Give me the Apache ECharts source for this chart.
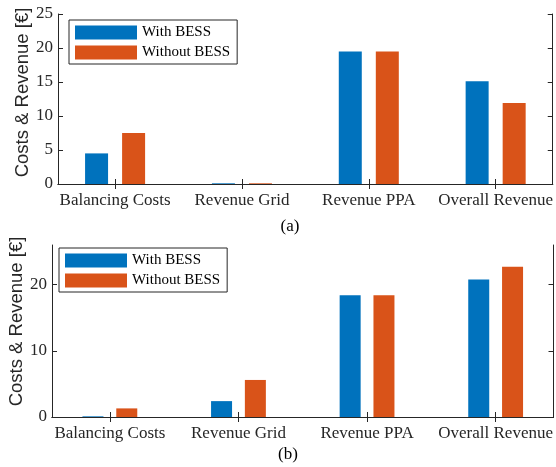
<!DOCTYPE html>
<html>
<head>
<meta charset="utf-8">
<script src="https://cdn.jsdelivr.net/npm/echarts@6/dist/echarts.min.js"></script>
<style>
html,body{margin:0;padding:0;background:#fff;}
#main{width:556px;height:467px;}
</style>
</head>
<body>
<div id="main"></div>
<script>
// ---- data ----
var categories = ['Balancing Costs', 'Revenue Grid', 'Revenue PPA', 'Overall Revenue'];
var seriesNames = ['With BESS', 'Without BESS'];
var withBessA = [4.5, 0.1, 19.5, 15.1];
var withoutBessA = [7.5, 0.1, 19.5, 11.9];
var withBessB = [0.1, 2.4, 18.4, 20.8];
var withoutBessB = [1.3, 5.6, 18.4, 22.7];
var yTicksA = [0, 5, 10, 15, 20, 25];
var yTicksB = [0, 10, 20];
var xTicks = [1, 2, 3, 4];
var yTitle = 'Costs & Revenue [€]';
var captions = ['(a)', '(b)'];

var serif = 'Liberation Serif';
var sans = 'Liberation Sans';
var axisColor = '#262626';
var blue = '#0072BD';
var orange = '#D95319';

function pairs(arr) {
  return arr.map(function (v, i) { return [xTicks[i], v]; });
}

function xAxes(gi) {
  var base = {
    gridIndex: gi, type: 'value', min: 0.55, max: 4.45,
    axisLine: { show: true, lineStyle: { color: axisColor, width: 1 } },
    axisTick: { show: true, inside: true, length: 5, customValues: xTicks, lineStyle: { color: axisColor } },
    splitLine: { show: false }
  };
  var bottom = Object.assign({}, base, {
    position: 'bottom',
    axisLabel: {
      show: true, customValues: xTicks, margin: 8, hideOverlap: false,
      fontFamily: serif, fontSize: 17, color: axisColor,
      formatter: function (v) { return categories[Math.round(v) - 1] || ''; }
    }
  });
  var top = Object.assign({}, base, { position: 'top', axisLabel: { show: false } });
  return [bottom, top];
}

function yAxes(gi, max, ticks) {
  var base = {
    gridIndex: gi, type: 'value', min: 0, max: max,
    axisLine: { show: true, lineStyle: { color: axisColor, width: 1 } },
    axisTick: { show: true, inside: true, length: 5, customValues: ticks, lineStyle: { color: axisColor } },
    splitLine: { show: false }
  };
  var left = Object.assign({}, base, {
    position: 'left',
    axisLabel: { show: true, customValues: ticks, margin: 5, fontFamily: serif, fontSize: 17, color: axisColor }
  });
  var right = Object.assign({}, base, { position: 'right', axisLabel: { show: false } });
  return [left, right];
}

function legendAt(left, top) {
  return {
    left: left, top: top, orient: 'vertical',
    data: seriesNames,
    itemWidth: 62, itemHeight: 14, itemGap: 5,
    padding: [5, 7, 4, 6],
    borderColor: axisColor, borderWidth: 1, backgroundColor: '#fff',
    icon: 'rect',
    selectedMode: false,
    textStyle: { fontFamily: serif, fontSize: 15, color: '#000', padding: [0, 0, 0, 0] }
  };
}

function bar(name, data, xi, yi, color, w) {
  return {
    type: 'bar', name: name, data: pairs(data),
    xAxisIndex: xi, yAxisIndex: yi,
    barWidth: w, barGap: '61%',
    itemStyle: { color: color },
    animation: false
  };
}

var chart = echarts.init(document.getElementById('main'), null, { renderer: 'canvas' });
var xa = xAxes(0), xb = xAxes(1);
var ya = yAxes(0, 25, yTicksA), yb = yAxes(1, 26, yTicksB);

chart.setOption({
  animation: false,
  backgroundColor: '#fff',
  grid: [
    { left: 58, top: 14, right: 1, height: 170 },
    { left: 52, top: 245, right: 2, height: 172 }
  ],
  xAxis: [xa[0], xa[1], xb[0], xb[1]],
  yAxis: [ya[0], ya[1], yb[0], yb[1]],
  legend: [legendAt(69, 20), legendAt(59, 248)],
  series: [
    bar(seriesNames[0], withBessA, 0, 0, blue, 23),
    bar(seriesNames[1], withoutBessA, 0, 0, orange, 23),
    bar(seriesNames[0], withBessB, 2, 2, blue, 21),
    bar(seriesNames[1], withoutBessB, 2, 2, orange, 21)
  ],
  graphic: [
    { type: 'text', x: 22.5, y: 92.5, rotation: Math.PI / 2,
      style: { text: yTitle, font: '18.5px "' + sans + '"', fill: axisColor, align: 'center', verticalAlign: 'middle' } },
    { type: 'text', x: 16.5, y: 321.5, rotation: Math.PI / 2,
      style: { text: yTitle, font: '18.5px "' + sans + '"', fill: axisColor, align: 'center', verticalAlign: 'middle' } },
    { type: 'text', x: 290, y: 227,
      style: { text: captions[0], font: '17px "' + serif + '"', fill: '#000', align: 'center', verticalAlign: 'middle' } },
    { type: 'text', x: 288, y: 455,
      style: { text: captions[1], font: '17px "' + serif + '"', fill: '#000', align: 'center', verticalAlign: 'middle' } }
  ]
});
</script>
</body>
</html>
